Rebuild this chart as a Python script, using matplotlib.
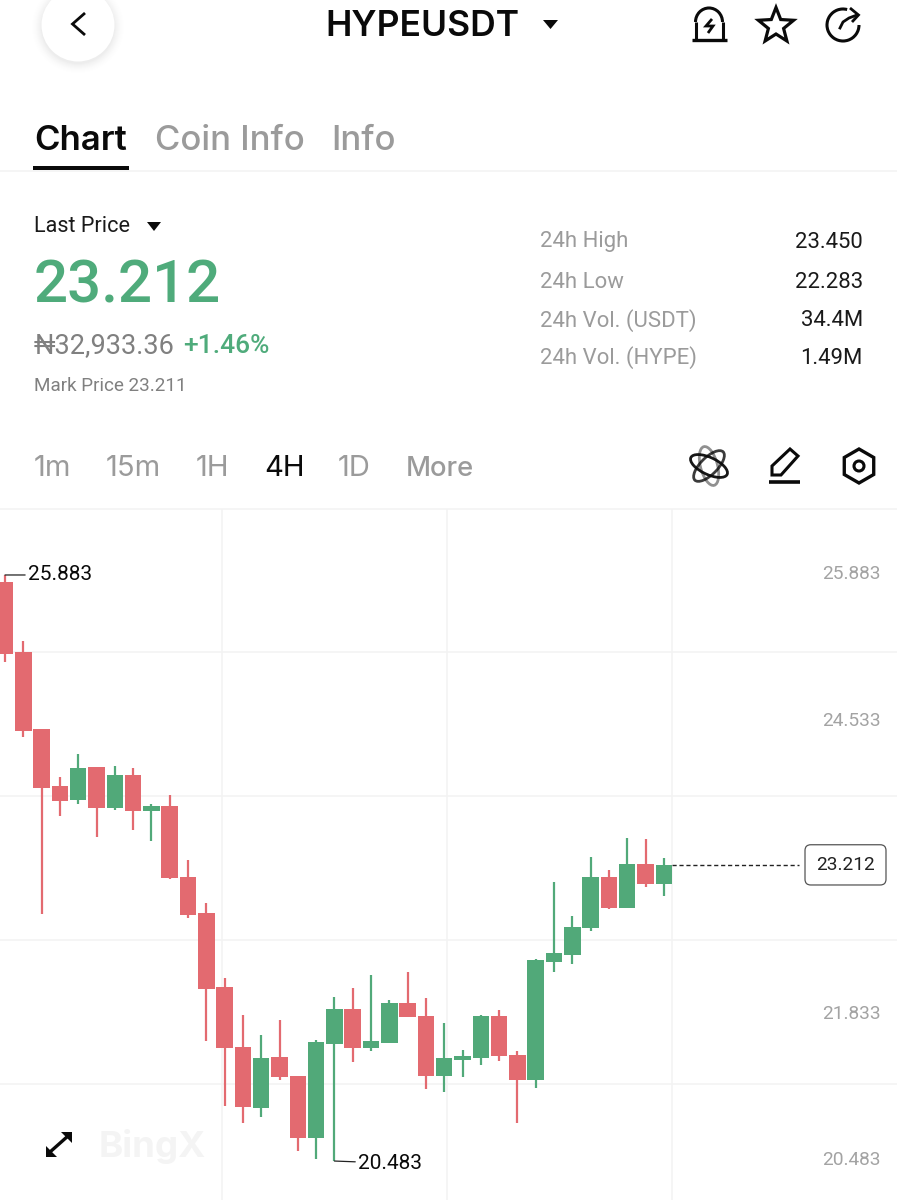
import matplotlib

matplotlib.use("Agg")
import matplotlib.pyplot as plt
import numpy as np
from matplotlib.patches import Circle, Ellipse, Polygon, Arc, Rectangle

plt.rcParams["font.family"] = ["Roboto", "DejaVu Sans"]

# 4H candles
opens = [25.821, 25.171, 24.464, 23.939, 23.810, 24.111, 23.736, 24.040, 23.708, 23.754,
         23.100, 22.768, 22.086, 21.536, 20.974, 21.441, 21.269, 20.698, 21.561, 21.884,
         21.524, 21.570, 21.942, 21.819, 21.266, 21.416, 21.432, 21.819, 21.463, 21.229,
         22.317, 22.384, 22.630, 23.100, 22.814, 23.220, 23.038]
highs = [25.883, 25.278, 24.464, 24.022, 24.234, 24.111, 24.126, 24.104, 23.773, 23.856,
         23.257, 22.863, 22.172, 21.831, 21.647, 21.782, 21.269, 21.598, 21.997, 22.077,
         22.197, 21.967, 22.225, 21.985, 21.755, 21.506, 21.828, 21.874, 21.499, 22.344,
         23.057, 22.741, 23.287, 23.167, 23.459, 23.450, 23.275]
lows = [25.081, 24.390, 22.759, 23.662, 23.773, 23.469, 23.717, 23.533, 23.435, 23.082,
        22.722, 21.589, 20.990, 20.833, 20.888, 21.229, 20.575, 20.501, 20.483, 21.398,
        21.499, 21.570, 21.810, 21.146, 21.122, 21.257, 21.368, 21.405, 20.833, 21.158,
        22.225, 22.298, 22.602, 22.805, 22.810, 23.008, 22.928]
closes = [25.155, 24.448, 23.923, 23.803, 24.104, 23.736, 24.040, 23.708, 23.754, 23.091,
          22.750, 22.071, 21.524, 20.981, 21.435, 21.257, 20.698, 21.580, 21.884, 21.524,
          21.589, 21.939, 21.810, 21.266, 21.432, 21.451, 21.819, 21.451, 21.229, 22.338,
          22.400, 22.642, 23.100, 22.814, 23.220, 23.038, 23.212]
axis_prices = [25.883, 24.533, 21.833, 20.483]
last_price = 23.212
grid_prices = [25.173, 23.846, 22.519, 21.193]
grid_candles = [11.86, 24.15, 36.45]

tabs = ["Chart", "Coin Info", "Info"]
timeframes = ["1m", "15m", "1H", "4H", "1D", "More"]
stat_labels = ["24h High", "24h Low", "24h Vol. (USDT)", "24h Vol. (HYPE)"]
stat_values = ["23.450", "22.283", "34.4M", "1.49M"]

RED = "#e36a70"
GREEN = "#51a979"
GRAY = "#9b9b9b"
INK = "#0a0a0a"
LINE = "#f3f3f3"

fig = plt.figure(figsize=(8.97, 12), dpi=100, facecolor="white")

# --- price chart ---
ax = fig.add_axes([0, 0, 1, 691 / 1200])
ax.set_xlim(-0.273, 48.74)
ax.set_ylim(20.124, 26.491)
for s in ax.spines.values():
    s.set_visible(False)
ax.set_xticks(grid_candles)
ax.set_yticks(grid_prices)
ax.tick_params(length=0, labelbottom=False, labelleft=False)
ax.grid(True, color=LINE, lw=1.1)
ax.set_axisbelow(True)

idx = np.arange(len(opens))
o, h, l, c = map(np.array, (opens, highs, lows, closes))
colors = [GREEN if cl >= op else RED for op, cl in zip(o, c)]
ax.vlines(idx, l, h, colors=colors, lw=1.6, zorder=2)
ax.bar(idx, c - o, bottom=o, width=0.9, color=colors, zorder=3)

for p in axis_prices:
    ax.annotate(f"{p:.3f}", xy=(1, p), xycoords=("axes fraction", "data"),
                xytext=(-12, 0.5), textcoords="offset points", ha="right", va="center",
                fontsize=13.8, color="#a3a3a3")

ax.annotate(f"{h.max():.3f}", xy=(idx[h.argmax()], h.max()), xytext=(16.5, 0), textcoords="offset points",
            ha="left", va="center", fontsize=15, color=INK,
            arrowprops=dict(arrowstyle="-", color="#222222", lw=0.9, shrinkA=0, shrinkB=0))
ax.annotate(f"{l.min():.3f}", xy=(idx[l.argmin()], l.min()), xytext=(17, -1.5), textcoords="offset points",
            ha="left", va="center", fontsize=15, color=INK,
            arrowprops=dict(arrowstyle="-", color="#222222", lw=0.9, shrinkA=0, shrinkB=0))

ax.plot([idx[-1] + 0.45, 43.4], [last_price, last_price], color="#222222", lw=1, ls=(0, (3, 2)), zorder=2)
ax.annotate(f"{last_price:.3f}", xy=(845.5 / 897, last_price), xycoords=("axes fraction", "data"),
            ha="center", va="center", fontsize=13.8, color="#222222",
            bbox=dict(boxstyle="round,pad=0.58,rounding_size=0.3", fc="white", ec="#555555", lw=0.9))

# --- page furniture, in pixel coordinates ---
ui = fig.add_axes([0, 0, 1, 1], facecolor="none")
ui.set_xlim(0, 897)
ui.set_ylim(1200, 0)
ui.axis("off")


def txt(x, y, s, size, color=INK, weight="normal", ha="left", family=None):
    ui.text(x, y, s, fontsize=size, color=color, fontweight=weight, ha=ha, va="center",
            family=family or ["Roboto", "DejaVu Sans"])


def stroke(xs, ys, lw=2.0, color=INK):
    ui.plot(xs, ys, color=color, lw=lw, solid_capstyle="butt", solid_joinstyle="miter")


# back button with soft shadow
for r, a in zip(range(46, 36, -1), np.linspace(0.002, 0.012, 10)):
    ui.add_patch(Circle((78, 27), r, color="black", alpha=a, lw=0))
ui.add_patch(Circle((78, 25), 36.5, color="white", lw=0))
stroke([85, 72.5, 85], [13, 24, 35], lw=2.0)

txt(422.5, 26, "HYPEUSDT", 25.5, weight="semibold", ha="center", family=["Inter", "DejaVu Sans"])
ui.add_patch(Polygon([[543, 20], [558, 20], [550.5, 29]], closed=True, color=INK, lw=0))

# bell, star, refresh icons
stroke([692, 727], [40, 40], lw=2.4)
stroke([695.5, 695.5], [40, 22], lw=2.2)
stroke([722.5, 722.5], [40, 22], lw=2.2)
ui.add_patch(Arc((709, 22), 27, 28, theta1=180, theta2=360, color=INK, lw=2.2))
stroke([712, 706, 713, 708], [19, 26, 26, 33], lw=2.0)
th = np.linspace(-np.pi / 2, 1.5 * np.pi, 11)[:-1]
rad = np.where(np.arange(10) % 2 == 0, 18.5, 8)
ui.add_patch(Polygon(np.c_[776 + rad * np.cos(th), 26 + rad * np.sin(th)], closed=True, fc="white", ec=INK, lw=2.3))
ui.add_patch(Arc((843, 25), 32, 32, theta1=0, theta2=285, color=INK, lw=2.2))
ui.plot([840, 843, 849, 857], [28, 22, 18, 15], color=INK, lw=2.0)
stroke([850, 858.5, 852], [8, 15, 22], lw=2.0)

# tabs
for x, s, col, w in zip([34, 155, 331], tabs, [INK, GRAY, GRAY], ["semibold", "medium", "medium"]):
    txt(x, 141, s, 25, color=col, weight=w, family=["Inter", "DejaVu Sans"])
ui.add_patch(Rectangle((33, 165.5), 96, 4.5, color=INK, lw=0))
ui.axhline(171, color=LINE, lw=1.1)

# price block
txt(34, 227, "Last Price", 15.6, color="#1a1a1a")
ui.add_patch(Polygon([[147, 222], [161, 222], [154, 231]], closed=True, color=INK, lw=0))
txt(34, 286, "23.212", 43.2, color="#4fab7b", weight="medium")
txt(34, 346, "₦32,933.36", 19.5, color="#808080")
txt(183, 346, "+1.46%", 19, color="#4fab7b", weight="medium")
txt(34, 386, "Mark Price 23.211", 13.6, color="#808080")

for y, s, v in zip([242, 283, 321, 358], stat_labels, stat_values):
    txt(540, y, s, 15.9, color=GRAY)
    txt(863, y, v, 15.9, color="#1a1a1a", ha="right")

# timeframes
for x, s in zip([34, 106, 196, 264.5, 338, 406], timeframes):
    col = INK if s == "4H" else GRAY
    txt(x, 469, s, 19.7 if s == "More" else 21, color=col, weight="medium" if s == "More" else "normal",
        family=["Inter", "DejaVu Sans"])

# atom, pencil, settings icons
for ang, a in zip([25, 75, 135], [0.95, 0.45, 0.8]):
    ui.add_patch(Ellipse((709, 466), 40, 17, angle=ang, fc="none", ec=INK, lw=2.0, alpha=a))
stroke([769, 800], [481.5, 481.5], lw=2.6)
ui.add_patch(Polygon([[772, 475], [772, 466], [790, 449], [798, 456], [781, 475]], closed=True, fc="white", ec=INK, lw=2.2))
ang6 = np.deg2rad(np.arange(30, 390, 60))
ui.add_patch(Polygon(np.c_[859 + 17 * np.cos(ang6), 466 + 17 * np.sin(ang6)], closed=True, fc="white", ec=INK, lw=2.4))
ui.add_patch(Circle((859, 466), 5, fc="white", ec=INK, lw=2.2))
ui.axhline(509, color=LINE, lw=1.1)

# expand icon and watermark
stroke([50, 68], [1152, 1136], lw=2.4)
ui.add_patch(Polygon([[46, 1157], [46, 1146], [57, 1157]], closed=True, color=INK, lw=0))
ui.add_patch(Polygon([[72, 1132], [72, 1143], [61, 1132]], closed=True, color=INK, lw=0))
txt(99, 1146, "BingX", 26.5, color="#f4f4f4", weight="bold", family=["Inter", "DejaVu Sans"])

fig.savefig("out.png", dpi=100)
